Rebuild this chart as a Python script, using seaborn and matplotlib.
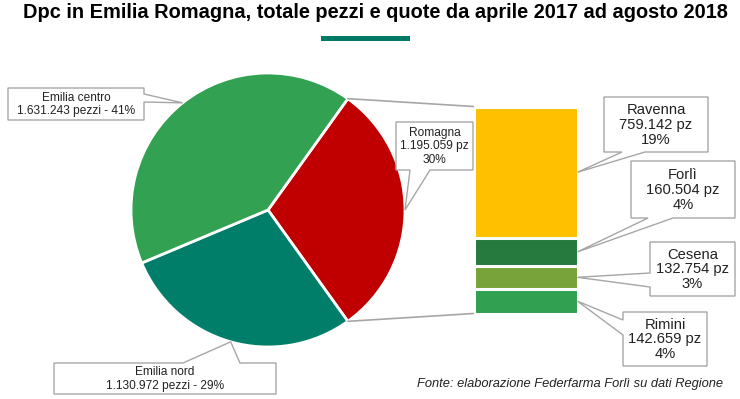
import numpy as np
import seaborn as sns
import matplotlib.pyplot as plt
from matplotlib.patches import Rectangle, Polygon, ConnectionPatch

sns.set_theme(style="white")
plt.rcParams['font.family'] = ['Liberation Sans', 'DejaVu Sans']

# dati
aree = ["Romagna", "Emilia nord", "Emilia centro"]
pezzi_aree = [1195059, 1130972, 1631243]
quote_aree = [30, 29, 41]
colori_aree = ["#C00000", "#007E6A", "#32A152"]

province = ["Ravenna", "Forlì", "Cesena", "Rimini"]
pezzi_prov = [759142, 160504, 132754, 142659]
quote_prov = [19, 4, 3, 4]
colori_prov = ["#FFC000", "#267A3E", "#77A33A", "#31A050"]

GRIGIO = "#A6A6A6"
W, H = 740, 399


def fmt(n):
    return "{:,}".format(n).replace(",", ".")


fig = plt.figure(figsize=(W / 100, H / 100), dpi=100)
fig.patch.set_facecolor("white")


def px_axes(x0, y0, x1, y1):
    return fig.add_axes([x0 / W, 1 - y1 / H, (x1 - x0) / W, (y1 - y0) / H])


# torta
ax_pie = px_axes(131, 73, 405, 347)
start = 180 * pezzi_aree[0] / sum(pezzi_aree)
wedges, _ = ax_pie.pie(pezzi_aree, colors=colori_aree, startangle=start, counterclock=False,
                       wedgeprops=dict(edgecolor="white", linewidth=2, clip_on=False))
ax_pie.set_xlim(-1, 1)
ax_pie.set_ylim(-1, 1)
ax_pie.set_aspect("equal")
ax_pie.axis("off")

# barra impilata (barre cumulative sovrapposte)
ax_bar = px_axes(473.5, 106.5, 577.5, 313.5)
cum = np.cumsum(pezzi_prov[::-1])[::-1]
for val, col in zip(cum, colori_prov):
    sns.barplot(x=["Romagna"], y=[val], color=col, width=1, saturation=1,
                edgecolor="white", linewidth=2.2, ax=ax_bar)
ax_bar.set_xlim(-0.5, 0.5)
ax_bar.set_ylim(0, cum[0])
ax_bar.axis("off")

# linee di collegamento
for ang, yb in [(wedges[0].theta2, cum[0]), (wedges[0].theta1, 0)]:
    t = np.deg2rad(ang)
    con = ConnectionPatch(xyA=(np.cos(t), np.sin(t)), coordsA=ax_pie.transData,
                          xyB=(-0.5, yb), coordsB=ax_bar.transData,
                          color=GRIGIO, lw=1.2)
    fig.add_artist(con)

# livello per i fumetti
ax_ov = fig.add_axes([0, 0, 1, 1], facecolor="none", zorder=5)
ax_ov.set_xlim(0, W)
ax_ov.set_ylim(H, 0)
ax_ov.axis("off")


def to_px(ax, x, y):
    X, Y = ax.transData.transform((x, y))
    return (X, H - Y)


def callout(box, edge, a, b, tip, text, size, ls):
    x0, y0, x1, y1 = box
    TL, TR, BR, BL = (x0, y0), (x1, y0), (x1, y1), (x0, y1)
    if edge == "top":
        pts = [TL, (a, y0), tip, (b, y0), TR, BR, BL]
    elif edge == "right":
        pts = [TL, TR, (x1, a), tip, (x1, b), BR, BL]
    elif edge == "bottom":
        pts = [TL, TR, BR, (b, y1), tip, (a, y1), BL]
    else:
        pts = [TL, TR, BR, BL, (x0, b), tip, (x0, a)]
    ax_ov.add_patch(Polygon(pts, closed=True, fc="white", ec=GRIGIO, lw=1.0))
    ax_ov.text((x0 + x1) / 2, (y0 + y1) / 2 + 0.5, text, ha="center", va="center",
               fontsize=size, linespacing=ls, color="#222222")


# punte sulla torta: centro del settore sul bordo
tips_pie = []
for w in wedges:
    t = np.deg2rad((w.theta1 + w.theta2) / 2)
    tips_pie.append(to_px(ax_pie, np.cos(t), np.sin(t)))

callout((396, 122, 473, 170), "bottom", 410, 430, tips_pie[0],
        f"{aree[0]}\n{fmt(pezzi_aree[0])} pz\n{quote_aree[0]}%", 8.6, 1.18)
callout((54, 363, 276, 394), "top", 183, 240, tips_pie[1],
        f"{aree[1]}\n{fmt(pezzi_aree[1])} pezzi - {quote_aree[1]}%", 8.6, 1.2)
callout((8, 88, 144, 120), "right", 94, 102, tips_pie[2],
        f"{aree[2]}\n{fmt(pezzi_aree[2])} pezzi - {quote_aree[2]}%", 8.6, 1.2)

# punte sulla barra: metà di ogni segmento
bottoms = cum - np.array(pezzi_prov)
mids = bottoms + np.array(pezzi_prov) / 2
tips_bar = [to_px(ax_bar, 0.5, m) for m in mids]

boxes_prov = [((604, 97, 708, 152), "bottom", 622, 645),
              ((631, 161, 735, 218), "bottom", 648, 673),
              ((650, 242, 735, 296), "left", 273, 287),
              ((623, 312, 707, 366), "left", 320, 335)]
for (box, edge, a, b), nome, pz, q, tip in zip(boxes_prov, province, pezzi_prov, quote_prov, tips_bar):
    callout(box, edge, a, b, tip, f"{nome}\n{fmt(pz)} pz\n{q}%", 10.6, 1.08)

# titolo
fig.text(375 / W, 1 - 13 / H, "Dpc in Emilia Romagna, totale pezzi e quote da aprile 2017 ad agosto 2018",
         ha="center", va="center", fontsize=14.4, fontweight="bold", color="black")
fig.add_artist(Rectangle((321 / W, 1 - 41 / H), 89 / W, 5 / H, transform=fig.transFigure,
                         fc="#007A64", ec="none"))

fig.text(723 / W, 1 - 384 / H, "Fonte: elaborazione Federfarma Forlì su dati Regione",
         ha="right", va="center", fontsize=9.3, style="italic", color="#222222")

fig.savefig("out.png", dpi=100)
